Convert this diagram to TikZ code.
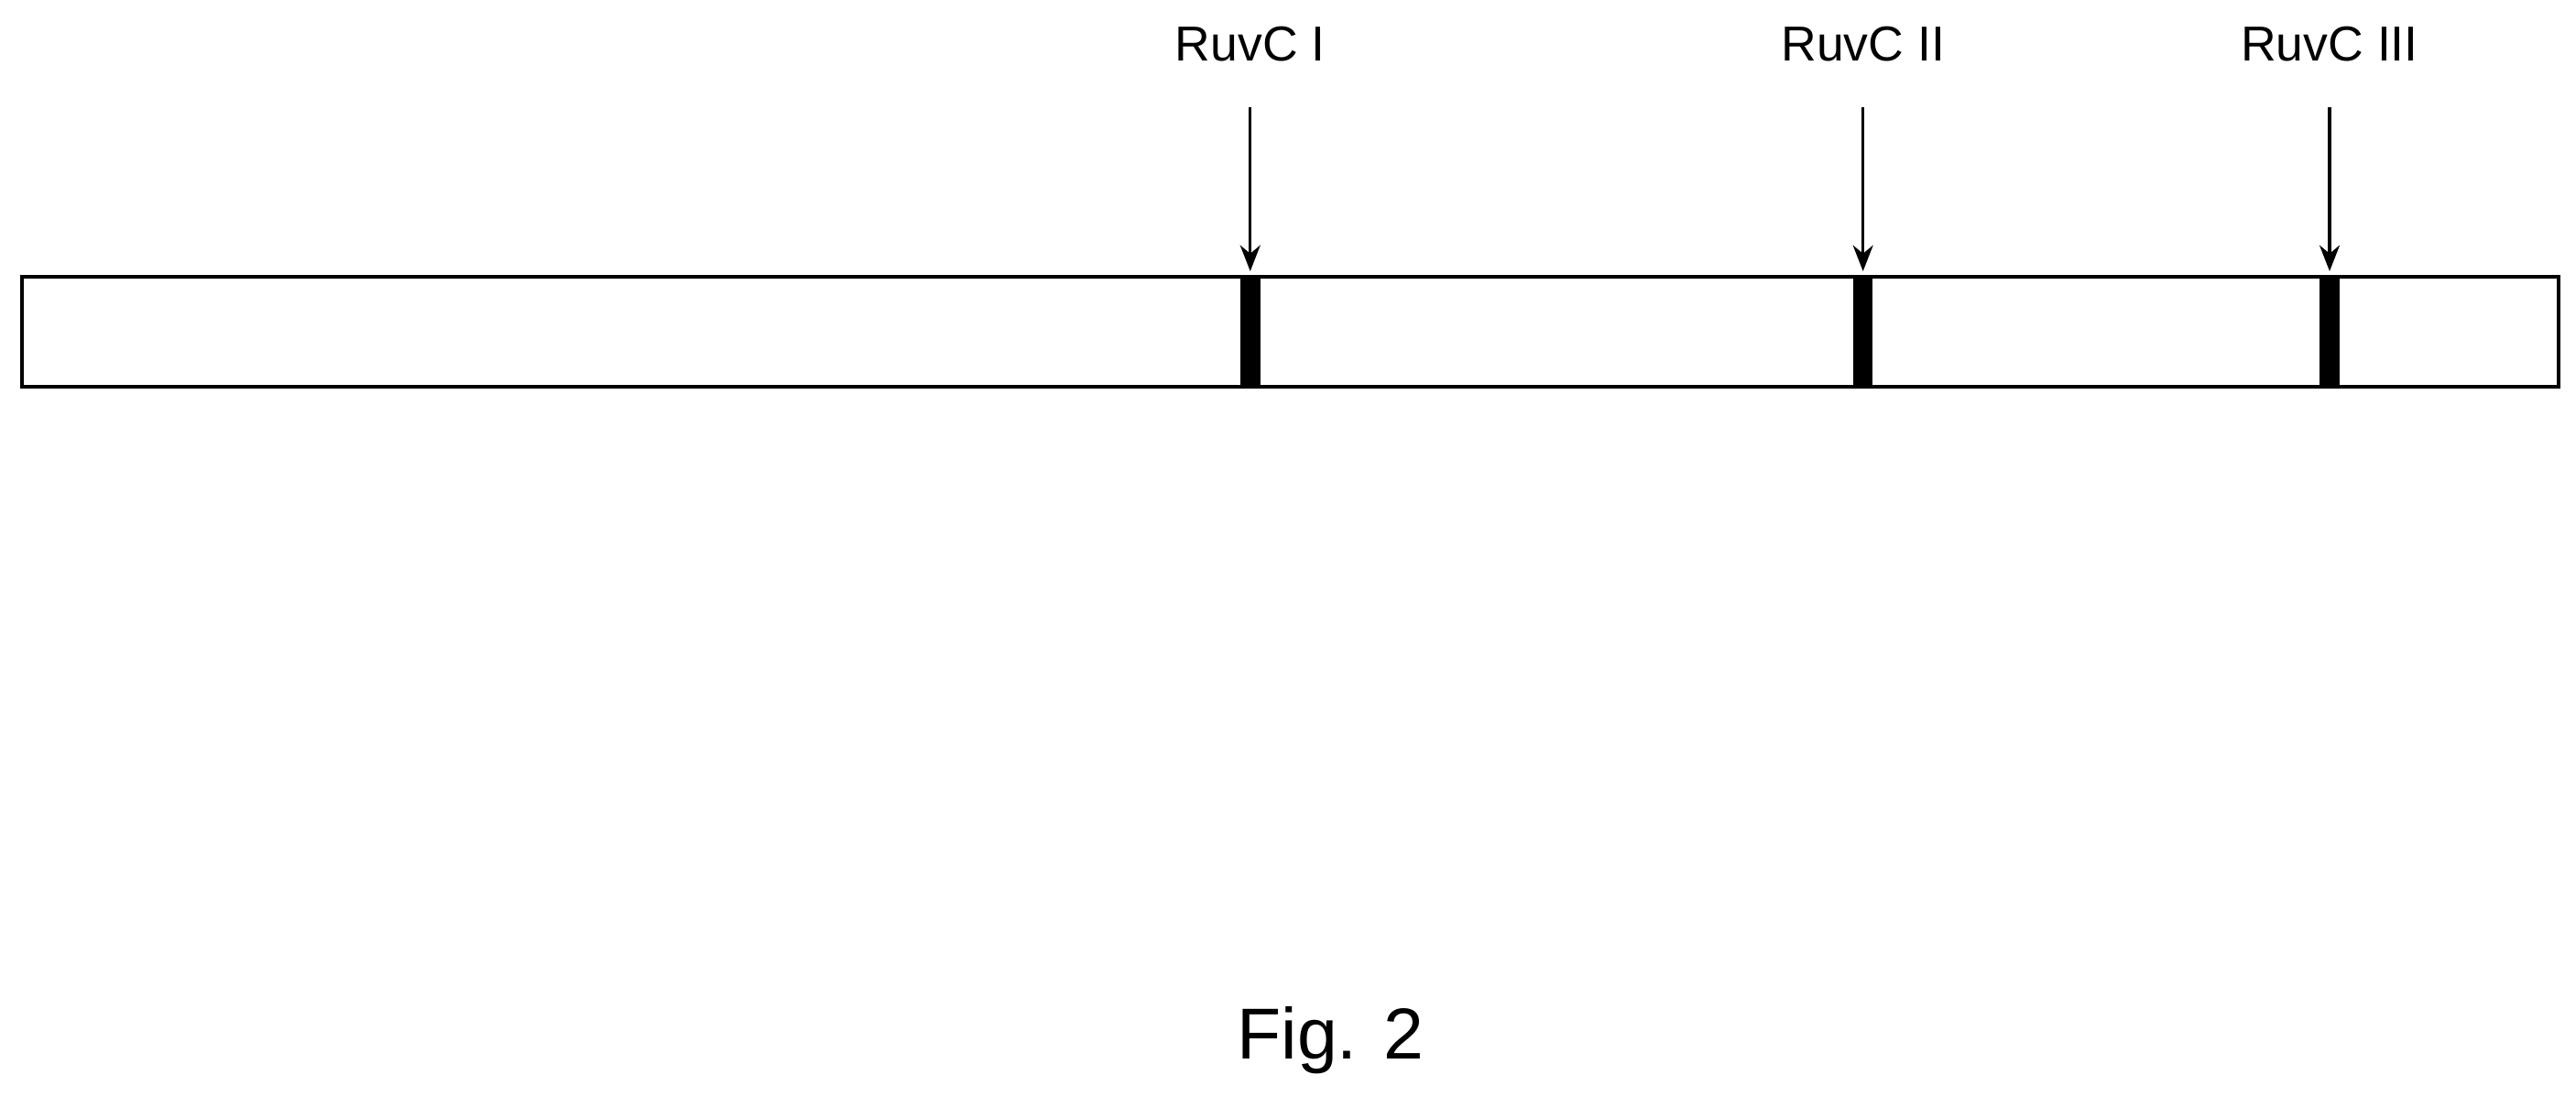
\documentclass[tikz,border=0pt]{standalone}
\usetikzlibrary{arrows.meta}
\usepackage{fontspec}
\setmainfont{Liberation Sans}
\begin{document}
\begin{tikzpicture}[x=0.02cm,y=-0.02cm,
  lab/.style={font=\fontsize{17}{20}\selectfont, inner sep=0pt},
  bar/.style={fill=black, draw=none},
  arr/.style={-{Stealth[length=9pt,width=7pt]}, line width=1pt}]
\useasboundingbox (0,0) rectangle (1568,667);
\node[draw, line width=1.5pt, minimum width=1544*0.02cm, minimum height=67*0.02cm, inner sep=0pt, anchor=north west] (box) at (12,167) {};
\foreach \n/\x/\t in {a/761/RuvC I, b/1134/RuvC II, c/1418/RuvC III}{
  \fill[bar] (\x-6,167) rectangle (\x+6,234);
  \node[lab] (l\n) at (\x,27) {\t};
  \coordinate (s\n) at (\x,65);
  \coordinate (e\n) at (\x,165);
  \draw[arr] (s\n) -- (e\n);
}
\node[font=\fontsize{25}{30}\selectfont, inner sep=0pt] (fig) at (810,633) {Fig. 2};
\end{tikzpicture}
\end{document}
